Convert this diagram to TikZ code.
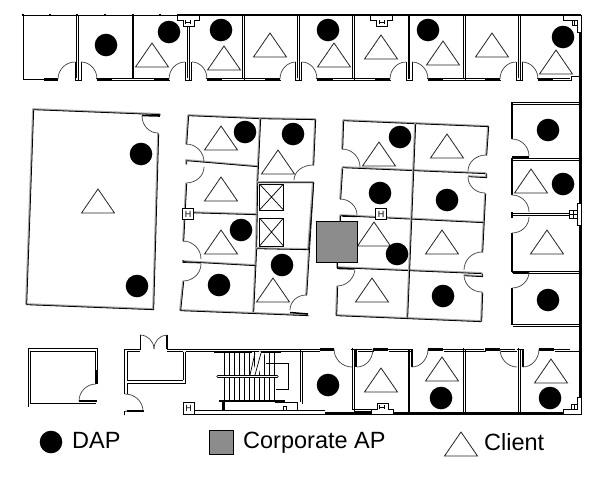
\documentclass[tikz,border=0pt]{standalone}
\usepackage{fontspec}
\setmainfont{Liberation Sans}
\usetikzlibrary{calc}
\definecolor{wallgray}{HTML}{A6A6A6}
\definecolor{apgray}{HTML}{8C8C8C}
\tikzset{
  thinw/.style={draw=black,line width=1pt},
  hair/.style={draw=black,line width=.7pt},
  thickw/.style={draw=black,line width=2.5pt},
  dwl/.style={draw=black,line width=.85pt},
  doorarc/.style={draw=black!75,line width=.7pt},
  trig/.style={draw=black!85,line width=.8pt},
  dap/.style={fill=black},
  rwg/.style={draw=wallgray,line width=1.7pt},
  rwk/.style={draw=black,line width=.8pt},
  lab/.style={anchor=base west,inner sep=0pt,font=\fontsize{23.5}{26}\selectfont},
  hbox/.style={draw=black,fill=white,line width=.8pt,minimum size=10.5pt,inner sep=0pt,font=\fontsize{9}{9}\selectfont},
  col/.style={draw=black,fill=white,line width=.8pt}
}
\newcommand{\dbw}[1]{\draw[dwl,shift={(-1,-1)}] #1; \draw[dwl,shift={(1,1)}] #1;}
\newcommand{\dr}[3]{\draw[doorarc] (#1) .. controls ($(#1)!.55!(#2)$) and ($(#3)!.55!(#2)$) .. (#3);}
\newcommand{\tri}[2]{\draw[trig] ({#1-16.5},#2) -- (#1,{#2-24}) -- ({#1+16.5},#2) -- cycle;}
\newcommand{\dapc}[2]{\fill[dap] (#1,#2) circle[radius=11.3pt];}
\newcommand{\rw}[1]{\draw[rwg,line join=round] #1; \draw[rwk,shift={(.7,.7)}] #1;}
\newcommand{\tcol}{%
  \draw[col] (-11,0) -- (11,0) -- (11,5) -- (6,5) -- (6,11) -- (-5,11) -- (-5,5) -- (-11,5) -- cycle;
  \draw[hair] (-2.5,5) -- (-2.5,9) (2.5,5) -- (2.5,9) (-2.5,7) -- (2.5,7);}
\begin{document}
\begin{tikzpicture}[x=1pt,y=-1pt]
\useasboundingbox (0,0) rectangle (600,480);
\fill[white] (0,0) rectangle (600,480);

% ---------- top row
\draw[thinw] (23,79) -- (23,15) -- (177,15);
\foreach \x in {23,50,77,105,133,160} \draw[line width=2pt] (\x,13.7) -- (\x,16.3);
\draw[thickw] (177,15) -- (581,15);
\foreach \x in {77,188,243,298,353,464,519} {\dbw{(\x,15) -- (\x,79)}}
\foreach \x in {133,409} \draw[line width=1.5pt] (\x,15) -- (\x,79);
\draw[thinw] (23,79) -- (44,79);
\foreach \a/\b in {97/169,207/280,317/390,428/500,538/571} {\dbw{(\a,79) -- (\b,79)}}
\foreach \a/\b in {44/58,97/112,154/169,207/222,265/280,317/333,375/390,428/443,485/500,538/553}
  \draw[line width=2.4pt] (\a,79.5) -- (\b,79.5);
\foreach \x in {78,188.5,298.5,409,519.5}
  \draw[line width=1pt] ({\x-3},62) -- ({\x-3},80.3) -- ({\x+3},80.3) -- ({\x+3},62);
\draw[hair] (571,79.7) -- (571,76.5) -- (580,76.5);
\dr{58,79}{58,62}{75,62}
\dr{81,62}{97,62}{97,79}
\dr{169,79}{169,62}{185,62}
\dr{192,62}{207,62}{207,79}
\dr{280,79}{280,62}{296,62}
\dr{302,62}{317,62}{317,79}
\dr{390,79}{390,62}{406,62}
\dr{412,62}{428,62}{428,79}
\dr{500,79}{500,62}{516,62}
\dr{522,62}{538,62}{538,79}
\begin{scope}[shift={(188,15)}]\tcol\end{scope}
\begin{scope}[shift={(381.5,15)}]\tcol\end{scope}
% corner columns and outer wall
\draw[line width=3pt] (580.5,30) -- (580.5,397);
\draw[col] (563,15) -- (581,15) -- (581,32) -- (577,32) -- (577,20) -- (563,20) -- cycle;
\draw[hair] (572,20) -- (572,25) -- (577,25) (574.5,20) -- (574.5,25);
\draw[col] (581,397) -- (581,414) -- (563,414) -- (563,409.5) -- (577,409.5) -- (577,397) -- cycle;
\draw[hair] (571.5,409.5) -- (571.5,404) -- (577,404) (574,404) -- (574,409.5);

% ---------- big left room
\rw{(160,114) -- (33,109) -- (26,304) -- (153,309) -- (158,133)}
\draw[line width=1.6pt] (142,115.5) -- (160,116);
\dr{142,116}{142,133}{158,133}

% ---------- middle-left block
\rw{(188,115) -- (260,118) -- (315,119) -- (313,165)}
\rw{(188,115) -- (186,144)}
\rw{(313,182) -- (306,295)}
\rw{(260,118) -- (257,182) -- (256,248) -- (253,312)}
\rw{(186,164) -- (186,160) -- (257,166)}
\rw{(186,183) -- (183,241)}
\rw{(188,212) -- (256,214)}
\rw{(183,260) -- (183,261) -- (255,265)}
\rw{(183,281) -- (180,310) -- (308,315)}
\rw{(257,182) -- (313,182) -- (308,249) -- (256,248)}
\draw[hair] (183,260) -- (183,262.5) -- (201,263);
\draw[line width=1.5pt] (290,312.5) -- (308,314);
\dr{186,144}{204,144}{204,162}
\dr{204,167}{204,183}{186,183}
\dr{183,241}{201,241}{201,259}
\dr{201,264}{201,281}{183,281}
\dr{294,180}{294,165}{313,165}
\dr{290,310}{290,295}{306,295}
\draw[line width=1pt] (259.5,184) rectangle (283.5,210);
\draw[line width=1pt] (259.5,218) rectangle (283.5,246);
\draw[hair] (259.5,184) -- (283.5,210) (283.5,184) -- (259.5,210);
\draw[hair] (259.5,218) -- (283.5,246) (283.5,218) -- (259.5,246);
\node[hbox] (hleft) at (188,214) {H};

% ---------- middle-right block
\rw{(343,120) -- (415,123) -- (488,126) -- (486,155)}
\rw{(343,120) -- (342,149)}
\rw{(342,167) -- (486,173)}
\rw{(342,168) -- (340,199)}
\rw{(486,173) -- (486,177) -- (468,176)}
\rw{(485,193) -- (482,252)}
\rw{(340,215) -- (483,222)}
\rw{(337,267) -- (482,273)}
\rw{(482,273) -- (482,276) -- (464,275)}
\rw{(337,286) -- (336,315) -- (481,321)}
\rw{(482,292) -- (481,321)}
\rw{(415,123) -- (407,317)}
\rw{(340,215) -- (340,221)}
\rw{(337,262) -- (337,268)}
\draw[line width=1.4pt] (342,216) -- (357,216.5) (338,268.5) -- (354,269);
\dr{342,149}{360,149}{360,167}
\dr{340,199}{357,199}{357,215}
\dr{337,286}{355,286}{355,268}
\dr{468,171}{468,155}{486,155}
\dr{468,177}{468,193}{485,193}
\dr{464,270}{464,252}{482,252}
\dr{464,275}{464,292}{482,292}
\node[hbox] (hright) at (381,214) {H};

% ---------- right rooms
\foreach \yy in {103,159,272,325} {\dbw{(512,\yy) -- (580,\yy)}}
\draw[line width=1.1pt] (512,103) -- (512,139) (512,159) -- (512,195) (512,233) -- (512,272) (512,288) -- (512,325);
\draw[line width=1.6pt] (512,120) -- (512,139) (512,160) -- (512,195);
\draw[line width=1.2pt] (512,157) -- (529,157) (512,272.5) -- (529,272.5);
\dbw{(512,214.5) -- (571,214.5)}
\draw[line width=1.2pt] (512,211.5) -- (512,217.5);
\dr{512,139}{529,139}{529,156}
\dr{512,195}{529,195}{529,212}
\dr{529,217}{529,233}{512,233}
\dr{529,272}{529,288}{512,288}
\draw[col] (577,203) rectangle (581,225);
\draw[col] (569.5,210) rectangle (577,218);
\draw[hair] (573,210) -- (573,218) (569.5,214) -- (577,214);

% ---------- bottom left room
\draw[thinw] (28,407) -- (28,348.5) -- (97.5,348.5) -- (97.5,370);
\draw[thinw] (30.5,403.5) -- (30.5,351) -- (95,351) -- (95,370);
\draw[thinw] (30.5,403.5) -- (96,403.5);
\draw[line width=2.5pt] (96.5,370) -- (96.5,384);
\draw[line width=1.8pt] (79,401) -- (97,401);
\dr{96,384}{79,384}{79,401}

% ---------- bottom wing
\draw[thinw] (124.5,394) -- (124.5,349) -- (140,349) -- (140,335);
\draw[thinw] (127,380) -- (127,351.5) -- (140,351.5);
\draw[thinw] (127,394) -- (127,383);
\draw[thinw] (127,380) -- (183,380) (127,383) -- (185.5,383);
\draw[thinw] (183,351.5) -- (183,380) (185.5,351.5) -- (185.5,383);
\draw[line width=1.3pt] (167,335) -- (167,349);
\draw[thinw] (167,349) -- (320,349) (167,351.5) -- (183,351.5) (185.5,351.5) -- (320,351.5);
\dr{140,335}{154,335}{154,349}
\dr{167,335}{154,335}{154,349}
\draw[line width=1.8pt] (127,411) -- (143.5,411);
\draw[hair] (124.5,415) -- (124.5,411.5) -- (127,411);
\dr{125,394}{143,394}{143,411}

% stairs
\foreach \x in {224,229,234,239,244,249,254,259,264,269,274} {
  \draw[hair] (\x,352) -- (\x,375);
  \draw[hair] (\x,378) -- (\x,401);
}
\draw[white,line width=6pt] (255,376) -- (262,352);
\draw[line width=2pt] (214,352) -- (252,352) (261,352) -- (281,352);
\draw[hair] (250,375) -- (255,353) (255,375) -- (261,353);
\draw[black,line width=3.4pt,line cap=round] (218,376.5) -- (277,376.5);
\draw[white,line width=1.2pt,line cap=round] (218,376.5) -- (277,376.5);
\draw[line width=2pt] (219,401) -- (285,401);
\draw[hair] (266,363) -- (288.5,363) -- (288.5,389.5) -- (276,389.5);
\draw[line width=3pt] (223,402) -- (223,410);
\draw[hair] (275,402.5) -- (297,402.5) -- (297,410.5);
\draw[hair] (283.5,410) rectangle (286.5,406);

% bottom line of wing
\draw[thinw] (194,410.5) -- (325,410.5);
\draw[thinw] (183,414) -- (325,414);
\node[hbox,minimum width=11pt,minimum height=12pt] (hstair) at (188.5,408) {H};
% partitions of the lower row
\dbw{(301,350) -- (301,403)}
\dbw{(353,349) -- (353,410)}
\draw[line width=1.5pt] (409,349) -- (409,413);
\foreach \x in {464,519} {\dbw{(\x,349) -- (\x,413)}}
\draw[line width=2pt] (356,349) -- (356,367);
\draw[line width=2pt] (412,349) -- (412,367);
\draw[line width=2pt] (523,349) -- (523,367);
\draw[line width=1pt] (350.5,349) -- (357,349);
\draw[line width=1pt] (516.5,349) -- (523.5,349);
\foreach \a/\b in {357/373,388/412,443/485,500/516,554/571} {\dbw{(\a,350) -- (\b,350)}}
\foreach \a/\b in {320/334,373/388,428/443,485/500,539/554} \draw[line width=2.2pt] (\a,349.5) -- (\b,349.5);
\draw[line width=1.5pt] (571,351.5) -- (580,351.5);
\dr{334,349}{334,367}{352,367}
\dr{357,367}{373,367}{373,349}
\dr{412,367}{428,367}{428,349}
\dr{500,349}{500,367}{517,367}
\dr{523,367}{539,367}{539,349}
\draw[thickw] (325,413.5) -- (564,413.5);
\dbw{(353,410) -- (393,410)}
\begin{scope}[shift={(382,414)},yscale=-1]\tcol\end{scope}

% ---------- triangles
\tri{152}{67}\tri{224}{70}\tri{270}{57}\tri{334}{67}\tri{381}{59}\tri{443}{65}\tri{492}{57}\tri{556}{74}
\tri{98}{213}
\tri{221}{150}\tri{278}{174}\tri{221}{201}\tri{221}{254}\tri{273}{302}
\tri{379}{166}\tri{447}{158}\tri{374}{246}\tri{442}{254}\tri{372}{302}
\tri{531}{193}\tri{547}{254}
\tri{381}{392}\tri{442}{381}\tri{551}{383}

% ---------- DAPs
\dapc{106}{45}\dapc{169}{32}\dapc{221}{30}\dapc{328}{30}\dapc{428}{30}\dapc{563}{37}
\dapc{141}{154}\dapc{137}{286}
\dapc{245}{132}\dapc{293}{134}\dapc{241}{230}\dapc{219}{285}\dapc{282}{265}
\dapc{400}{137}\dapc{380}{193}\dapc{447}{200}\dapc{397}{254}\dapc{443}{296}
\dapc{548}{130}\dapc{563}{184}\dapc{548}{300}
\dapc{328}{385}\dapc{441}{398}\dapc{550}{398}

% corporate AP
\draw[black,fill=apgray,line width=.8pt] (316,221) rectangle (357,262);

% ---------- legend
\dapc{51}{442}
\node[lab] (tdap) at (72,448) {DAP};
\draw[black,fill=apgray,line width=.8pt] (209.5,430.5) rectangle (233.5,454);
\node[lab] (tap) at (243,448) {Corporate AP};
\tri{461}{456}
\node[lab] (tcl) at (484,450.5) {Client};
\end{tikzpicture}
\end{document}
